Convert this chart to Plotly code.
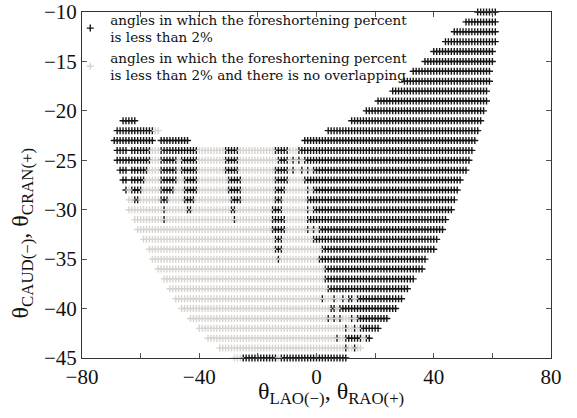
import plotly.graph_objects as go

# Sampled projection angles (1 degree grid). Each row is a CAUD/CRAN angle,
# listed as runs of LAO/RAO angles: (from, to, kind)
#   kind "k": foreshortening < 2 %
#   kind "g": foreshortening < 2 % and no vessel overlap
ROW_ANGLE = [-10, -11, -12, -13, -14, -15, -16, -17, -18, -19, -20, -21, -22,
             -23, -24, -25, -26, -27, -28, -29, -30, -31, -32, -33, -34, -35,
             -36, -37, -38, -39, -40, -41, -42, -43, -44, -45]

ROW_RUNS = [
    [(55, 61, "k")],
    [(51, 61, "k")],
    [(47, 61, "k")],
    [(44, 61, "k")],
    [(40, 60, "k")],
    [(37, 60, "k")],
    [(33, 59, "k")],
    [(30, 59, "k")],
    [(26, 58, "k")],
    [(21, 58, "k")],
    [(17, 57, "k")],
    [(-66, -62, "k"), (12, 56, "k")],
    [(-68, -56, "k"), (-55, -54, "g"), (4, 55, "k")],
    [(-69, -56, "k"), (-53, -44, "k"), (-4, 54, "k")],
    [(-68, -65, "k"), (-63, -57, "k"), (-56, -54, "g"), (-53, -41, "k"),
     (-40, -32, "g"), (-31, -27, "k"), (-26, -15, "g"), (-14, -10, "k"),
     (-9, -7, "g"), (-6, 53, "k")],
    [(-68, -57, "k"), (-56, -54, "g"), (-53, -48, "k"), (-47, -47, "g"),
     (-46, -41, "k"), (-40, -32, "g"), (-31, -27, "k"), (-26, -14, "g"),
     (-13, -10, "k"), (-9, -9, "g"), (-8, -8, "k"), (-7, -7, "g"),
     (-6, -6, "k"), (-5, -5, "g"), (-4, 52, "k")],
    [(-67, -65, "k"), (-63, -58, "k"), (-57, -54, "g"), (-53, -48, "k"),
     (-47, -47, "g"), (-46, -41, "k"), (-40, -32, "g"), (-31, -27, "k"),
     (-26, -15, "g"), (-14, -10, "k"), (-9, -9, "g"), (-8, -8, "k"),
     (-7, -6, "g"), (-5, -5, "k"), (-4, -4, "g"), (-3, -3, "k"),
     (-2, -2, "g"), (-1, 51, "k")],
    [(-66, -65, "k"), (-63, -59, "k"), (-58, -54, "g"), (-53, -48, "k"),
     (-47, -46, "g"), (-45, -41, "k"), (-40, -31, "g"), (-30, -26, "k"),
     (-25, -15, "g"), (-14, -10, "k"), (-9, -5, "g"), (-4, 49, "k")],
    [(-65, -65, "k"), (-64, -64, "g"), (-63, -60, "k"), (-59, -54, "g"),
     (-53, -49, "k"), (-48, -46, "g"), (-45, -41, "k"), (-40, -31, "g"),
     (-30, -26, "k"), (-25, -15, "g"), (-14, -11, "k"), (-10, -4, "g"),
     (-3, -3, "k"), (-2, -2, "g"), (-1, 48, "k")],
    [(-64, -63, "g"), (-62, -61, "k"), (-60, -54, "g"), (-53, -51, "k"),
     (-50, -46, "g"), (-45, -42, "k"), (-41, -30, "g"), (-29, -26, "k"),
     (-25, -15, "g"), (-14, -12, "k"), (-11, -4, "g"), (-3, 47, "k")],
    [(-64, -53, "g"), (-52, -52, "k"), (-51, -45, "g"), (-44, -43, "k"),
     (-42, -30, "g"), (-29, -28, "k"), (-27, -16, "g"), (-15, -12, "k"),
     (-11, -4, "g"), (-3, -3, "k"), (-2, -2, "g"), (-1, 46, "k")],
    [(-62, -53, "g"), (-52, -52, "k"), (-51, -29, "g"), (-28, -28, "k"),
     (-27, -16, "g"), (-15, -11, "k"), (-10, -4, "g"), (-3, 44, "k")],
    [(-61, -16, "g"), (-15, -11, "k"), (-10, -4, "g"), (-3, -3, "k"),
     (-2, -2, "g"), (-1, -1, "k"), (0, 0, "g"), (1, 43, "k")],
    [(-59, -15, "g"), (-14, -12, "k"), (-11, -2, "g"), (-1, 41, "k")],
    [(-57, -15, "g"), (-14, -12, "k"), (-11, 1, "g"), (2, 40, "k")],
    [(-56, -14, "g"), (-13, -13, "k"), (-12, 0, "g"), (1, 37, "k")],
    [(-54, 2, "g"), (3, 36, "k")],
    [(-52, 2, "g"), (3, 33, "k")],
    [(-50, 3, "g"), (4, 31, "k")],
    [(-48, 1, "g"), (2, 2, "k"), (3, 5, "g"), (6, 6, "k"), (7, 8, "g"),
     (9, 9, "k"), (10, 10, "g"), (11, 12, "k"), (13, 13, "g"), (14, 29, "k")],
    [(-46, 4, "g"), (5, 6, "k"), (7, 7, "g"), (8, 27, "k")],
    [(-43, 3, "g"), (4, 4, "k"), (5, 5, "g"), (6, 6, "k"), (7, 7, "g"),
     (8, 8, "k"), (9, 11, "g"), (12, 12, "k"), (13, 13, "g"), (14, 24, "k")],
    [(-40, 9, "g"), (10, 10, "k"), (11, 12, "g"), (13, 13, "k"),
     (14, 14, "g"), (15, 21, "k")],
    [(-37, 6, "g"), (7, 7, "k"), (8, 9, "g"), (10, 15, "k"), (16, 16, "g"),
     (17, 18, "k")],
    [(-33, 9, "g"), (10, 10, "k"), (11, 12, "g"), (13, 13, "k"), (14, 15, "g")],
    [(-28, -26, "g"), (-25, -14, "k"), (-13, -13, "g"), (-12, 10, "k")],
]

X_TICKS = [-80, -60, -40, -20, 0, 20, 40, 60, 80]
X_TICK_TEXT = ["\u221280", "", "\u221240", "", "0", "", "40", "", "80"]
Y_TICKS = [-10, -15, -20, -25, -30, -35, -40, -45]

LABEL_K = "angles in which the foreshortening percent<br>is less than 2%"
LABEL_G = ("angles in which the foreshortening percent<br>"
           "is less than 2% and there is no overlapping")
X_TITLE = "\u03b8<sub>LAO(\u2212)</sub>, \u03b8<sub>RAO(+)</sub>"
Y_TITLE = "\u03b8<sub>CAUD(\u2212)</sub>, \u03b8<sub>CRAN(+)</sub>"

pts = {"k": ([], []), "g": ([], [])}
for y, runs in zip(ROW_ANGLE, ROW_RUNS):
    for a, b, kind in runs:
        for x in range(a, b + 1):
            pts[kind][0].append(x)
            pts[kind][1].append(y)

SERIF = "Liberation Serif, Times New Roman, serif"
LEGEND_SERIF = "DejaVu Serif, serif"
BLACK = "#161616"
GREY = "#d8d3ce"

fig = go.Figure()
fig.add_trace(go.Scatter(
    x=pts["k"][0], y=pts["k"][1], mode="markers", name=LABEL_K,
    cliponaxis=False,
    marker=dict(symbol="cross-thin", size=5, color=BLACK,
                line=dict(width=1.4, color=BLACK)),
))
fig.add_trace(go.Scatter(
    x=pts["g"][0], y=pts["g"][1], mode="markers", name=LABEL_G,
    cliponaxis=False,
    marker=dict(symbol="cross-thin", size=5, color=GREY,
                line=dict(width=1.4, color=GREY)),
))

axis_common = dict(
    showline=True, linecolor="#333333", linewidth=1, mirror="ticks",
    ticks="inside", ticklen=5, tickcolor="#555555", showgrid=False,
    zeroline=False, tickfont=dict(family=SERIF, size=21, color="#111111"),
)

fig.update_layout(
    width=577, height=418,
    margin=dict(l=82, r=26, t=12, b=60, autoexpand=False),
    paper_bgcolor="white", plot_bgcolor="white",
    showlegend=True,
    legend=dict(x=-0.025, y=1.023, xanchor="left", yanchor="top",
                bgcolor="rgba(0,0,0,0)", itemwidth=30,
                font=dict(family=LEGEND_SERIF, size=13.5, color="#111111"),
                tracegroupgap=0),
    xaxis=dict(range=[-80, 80], tickvals=X_TICKS, ticktext=X_TICK_TEXT,
               **axis_common),
    yaxis=dict(range=[-45, -10], tickvals=Y_TICKS, **axis_common),
    annotations=[
        dict(text=X_TITLE, xref="paper", yref="paper", x=0.53, y=-0.101,
             xanchor="center", yanchor="middle", showarrow=False,
             font=dict(family=SERIF, size=24, color="#111111")),
        dict(text=Y_TITLE, xref="paper", yref="paper", x=-0.128, y=0.36,
             xanchor="center", yanchor="middle", textangle=-90,
             showarrow=False,
             font=dict(family=SERIF, size=24, color="#111111")),
    ],
)

fig.write_html("out.html")
